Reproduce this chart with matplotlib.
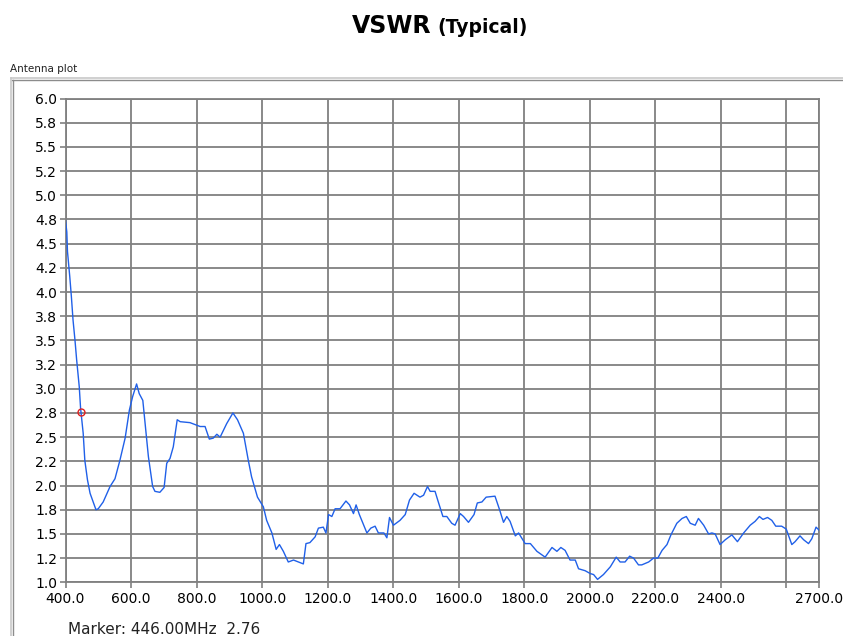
import matplotlib
matplotlib.use("Agg")
import matplotlib.pyplot as plt
from matplotlib.lines import Line2D
import numpy as np

# ---- data ----
freq_mhz = [400, 404, 406, 413, 418, 423, 429, 434, 442, 446, 454, 459, 467, 475, 493, 500,
            515, 536, 551, 566, 582, 595, 605, 617, 625, 636, 643, 653, 666, 673, 688, 701,
            709, 719, 729, 741, 750, 780, 811, 826, 833, 839, 851, 862, 872, 892, 911, 925,
            943, 958, 968, 986, 1004, 1014, 1030, 1043, 1053, 1065, 1080, 1096, 1111, 1126,
            1134, 1146, 1162, 1172, 1187, 1195, 1203, 1213, 1223, 1238, 1256, 1267, 1279,
            1287, 1297, 1320, 1332, 1345, 1355, 1372, 1381, 1389, 1401, 1421, 1437, 1450,
            1464, 1482, 1493, 1505, 1513, 1528, 1538, 1552, 1564, 1579, 1589, 1605, 1615,
            1630, 1647, 1657, 1671, 1684, 1711, 1725, 1737, 1747, 1757, 1773, 1783, 1803,
            1819, 1839, 1864, 1885, 1900, 1912, 1925, 1940, 1956, 1966, 1986, 2002, 2012,
            2024, 2042, 2063, 2081, 2093, 2108, 2122, 2134, 2149, 2159, 2180, 2195, 2208,
            2221, 2236, 2248, 2266, 2282, 2295, 2307, 2322, 2332, 2348, 2363, 2373, 2383,
            2398, 2414, 2434, 2451, 2470, 2490, 2505, 2518, 2529, 2543, 2556, 2568, 2586,
            2600, 2617, 2627, 2642, 2653, 2668, 2678, 2691, 2700]
vswr = [4.74, 4.62, 4.42, 4.16, 3.95, 3.71, 3.50, 3.30, 3.02, 2.80, 2.54, 2.26, 2.06, 1.92, 1.75, 1.76,
        1.83, 1.99, 2.07, 2.26, 2.49, 2.78, 2.92, 3.05, 2.95, 2.88, 2.64, 2.30, 1.99, 1.94, 1.93, 1.98,
        2.23, 2.28, 2.40, 2.68, 2.66, 2.65, 2.61, 2.61, 2.54, 2.48, 2.49, 2.53, 2.50, 2.64, 2.75, 2.68,
        2.54, 2.26, 2.09, 1.88, 1.78, 1.64, 1.51, 1.34, 1.39, 1.32, 1.21, 1.23, 1.21, 1.19,
        1.40, 1.41, 1.47, 1.56, 1.57, 1.51, 1.70, 1.68, 1.76, 1.76, 1.84, 1.80, 1.71,
        1.80, 1.70, 1.51, 1.56, 1.58, 1.51, 1.51, 1.46, 1.67, 1.59, 1.64, 1.70, 1.85,
        1.92, 1.88, 1.90, 1.99, 1.94, 1.94, 1.83, 1.68, 1.68, 1.61, 1.59, 1.71, 1.68,
        1.62, 1.70, 1.82, 1.83, 1.88, 1.89, 1.75, 1.62, 1.68, 1.63, 1.48, 1.51, 1.40,
        1.40, 1.32, 1.26, 1.36, 1.32, 1.36, 1.33, 1.23, 1.23, 1.14, 1.12, 1.09, 1.08,
        1.03, 1.08, 1.16, 1.26, 1.21, 1.21, 1.27, 1.25, 1.18, 1.18, 1.21, 1.25, 1.25,
        1.33, 1.39, 1.49, 1.61, 1.66, 1.68, 1.61, 1.59, 1.66, 1.59, 1.50, 1.51, 1.50,
        1.39, 1.44, 1.49, 1.42, 1.51, 1.59, 1.63, 1.68, 1.65, 1.67, 1.64, 1.58, 1.58,
        1.55, 1.39, 1.42, 1.48, 1.44, 1.40, 1.45, 1.57, 1.54]

x_ticks = [400, 600, 800, 1000, 1200, 1400, 1600, 1800, 2000, 2200, 2400, 2600, 2700]
x_tick_labels = ["400.0", "600.0", "800.0", "1000.0", "1200.0", "1400.0", "1600.0",
                 "1800.0", "2000.0", "2200.0", "2400.0", "", "2700.0"]
y_ticks = [1.0, 1.25, 1.5, 1.75, 2.0, 2.25, 2.5, 2.75, 3.0, 3.25, 3.5, 3.75, 4.0,
           4.25, 4.5, 4.75, 5.0, 5.25, 5.5, 5.75, 6.0]
y_tick_labels = [f"{v:.1f}" for v in y_ticks]

marker_freq = 446.0
marker_vswr = 2.76

title_main = "VSWR"
title_sub = "(Typical)"
panel_label = "Antenna plot"
marker_text = f"Marker: {marker_freq:.2f}MHz  {marker_vswr:.2f}"

# ---- figure ----
W, H = 843, 636
fig = plt.figure(figsize=(W / 100, H / 100), dpi=100)
fig.patch.set_facecolor("white")

def fx(px):
    return px / W

def fy(py):
    return 1 - py / H

# title
fig.text(fx(431), fy(33), title_main, ha="right", va="baseline",
         fontsize=17, fontweight="bold", color="black", family="DejaVu Sans")
fig.text(fx(437), fy(33), title_sub, ha="left", va="baseline",
         fontsize=13.5, fontweight="bold", color="black", family="DejaVu Sans")

# panel label and frame
fig.text(fx(10), fy(72), panel_label, ha="left", va="baseline", fontsize=7.5, color="#222222")
fig.add_artist(Line2D([fx(11), fx(843)], [fy(78), fy(78)], color="#c8c8c8", lw=1.2))
fig.add_artist(Line2D([fx(12), fx(843)], [fy(79.5), fy(79.5)], color="#8c8c8c", lw=1.0))
fig.add_artist(Line2D([fx(11), fx(11)], [fy(78), fy(636)], color="#c8c8c8", lw=1.2))
fig.add_artist(Line2D([fx(12.5), fx(12.5)], [fy(79.5), fy(636)], color="#8c8c8c", lw=1.0))

# axes
left, right, top, bottom = 65.5, 819.0, 98.5, 582.3
ax = fig.add_axes([fx(left), fy(bottom), fx(right - left), (bottom - top) / H])
ax.set_xlim(400, 2700)
ax.set_ylim(1.0, 6.0)
ax.set_xticks(x_ticks)
ax.set_xticklabels(x_tick_labels)
ax.set_yticks(y_ticks)
ax.set_yticklabels(y_tick_labels)
ax.grid(True, color="#808080", lw=1.3)
ax.set_axisbelow(True)
for s in ax.spines.values():
    s.set_color("#808080")
    s.set_linewidth(1.3)
ax.tick_params(axis="both", color="#808080", width=1.2, length=4, labelsize=10,
               labelcolor="black", pad=2)
ax.tick_params(axis="x", pad=3)

ax.plot(freq_mhz, vswr, color="#2060e8", lw=1.0, zorder=3)
ax.plot([marker_freq], [marker_vswr], marker="o", ms=5, mfc="none", mec="#e02020",
        mew=1.0, zorder=4, ls="none")

fig.text(fx(68), fy(634), marker_text, ha="left", va="baseline", fontsize=11, color="#222222")

fig.savefig("out.png", dpi=100)
